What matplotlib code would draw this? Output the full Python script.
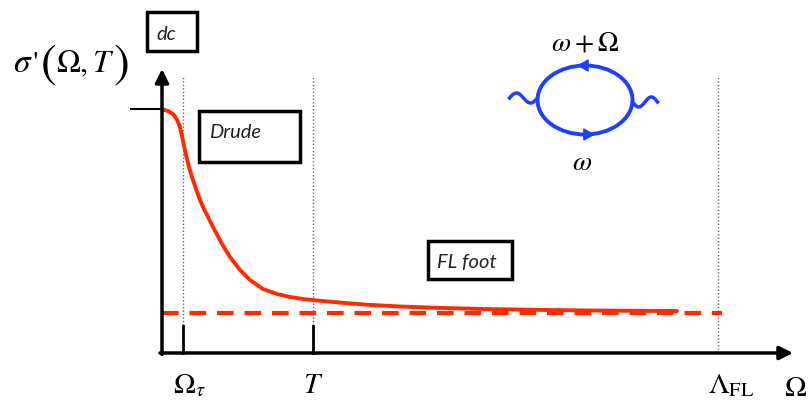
import numpy as np
import matplotlib.pyplot as plt
from matplotlib.patches import Rectangle, Ellipse

plt.rcParams['mathtext.fontset'] = 'stix'

# curve (x: frequency from origin, y: conductivity)
omega = [0, 1, 6, 11, 14, 16, 18, 20, 22, 24, 27, 30, 34, 38, 42, 46, 51, 60, 68, 78, 88,
         101, 115, 128, 141, 152, 165, 188, 205, 238, 271, 321, 371, 421, 471, 515]
sigma = [244, 243.5, 242, 239, 235, 231, 226, 217, 207, 198, 186, 176, 164, 153, 144, 136, 126, 109, 96, 83, 73,
         64, 59, 56, 54, 52.8, 51.6, 49.6, 48.3, 46.5, 45.3, 44, 43.2, 42.6, 42.2, 42]

sigma_dc = 244
sigma_fl = 40
omega_tau = 21
temp = 151
lambda_fl = 556
x_end = 631
y_top = 284

tick_labels = [r'$\Omega_\tau$', r'$T$', r'$\Lambda_{\rm FL}$']
tick_pos = [omega_tau, temp, lambda_fl]
label_shift = [6, 0, 13]

fig = plt.figure(figsize=(8.09, 4.02), dpi=100)
ax = fig.add_axes([0, 0, 1, 1])
ax.set_xlim(-162, 647)
ax.set_ylim(-48, 354)
ax.axis('off')

# axes with arrows
ax.annotate('', xy=(x_end, 0), xytext=(-2, 0),
            arrowprops=dict(arrowstyle='-|>', lw=2.5, color='k', mutation_scale=20,
                            shrinkA=0, shrinkB=0))
ax.annotate('', xy=(0, y_top), xytext=(0, -1.5),
            arrowprops=dict(arrowstyle='-|>', lw=2.5, color='k', mutation_scale=20,
                            shrinkA=0, shrinkB=0))
ax.plot([-31, 0], [sigma_dc, sigma_dc], color='k', lw=1.5)

# dotted guides and short ticks
for xp in tick_pos:
    ax.plot([xp, xp], [0, 276], color='#666666', lw=1, ls=(0, (1, 1.5)))
for xp in tick_pos[:2]:
    ax.plot([xp, xp], [0, 27], color='k', lw=2)

# tick labels
for xp, lab, dx in zip(tick_pos, tick_labels, label_shift):
    ax.text(xp + dx, -31, lab, fontsize=21, ha='center', va='center')
ax.text(622, -34, r'$\Omega$', fontsize=21, ha='left', va='center')

# FL floor and curve
ax.plot([0, lambda_fl + 4], [sigma_fl, sigma_fl], color='#ff2a00', lw=3, ls=(0, (4, 2.6)))
ax.plot(omega, sigma, color='#ff2a00', lw=2.8, solid_capstyle='round', solid_joinstyle='round')

# y label, assembled from pieces so the brackets can be tall
ax.text(-149, 282, r'$\sigma$', fontsize=24, ha='left', va='baseline')
ax.text(-129, 282, "'", fontsize=22, family='STIXGeneral', ha='left', va='baseline')
ax.text(-121, 289, '(', fontsize=34, family='STIXGeneral', ha='left', va='center')
ax.text(-106, 282, r'$\Omega,T$', fontsize=23, ha='left', va='baseline')
ax.text(-48, 289, ')', fontsize=34, family='STIXGeneral', ha='left', va='center')

# boxes
boxes = [((-15, 302), 50, 39, 'dc', (-6, 320)),
         ((37, 191), 101, 51, 'Drude', (47, 221)),
         ((266, 74), 84, 38, 'FL foot', (275, 92))]
for (x0, y0), w, h, txt, (tx, ty) in boxes:
    ax.add_patch(Rectangle((x0, y0), w, h, fill=False, ec='k', lw=2.5))
    ax.text(tx, ty, txt, fontsize=14.5, style='italic', family='Lato', ha='left', va='center',
            color='#222222')

# bubble diagram
cx, cy = 423, 253
blue = '#1f3fff'
ax.add_patch(Ellipse((cx, cy), 95, 69, fill=False, ec=blue, lw=2.8))
t = np.linspace(0, 1, 60)
ax.plot(cx - 75.5 + 28 * t, cy + 2 + 5 * np.sin(2 * np.pi * t), color=blue, lw=2.5)
ax.plot(cx + 47.5 + 25 * t, cy - 2 - 5 * np.sin(2 * np.pi * t), color=blue, lw=2.5)
ax.annotate('', xy=(cx - 8, cy + 34.5), xytext=(cx - 1, cy + 34.5),
            arrowprops=dict(arrowstyle='-|>,head_length=0.5,head_width=0.28', color=blue, lw=1,
                            mutation_scale=14, shrinkA=0, shrinkB=0))
ax.annotate('', xy=(cx + 10, cy - 34.5), xytext=(cx + 3, cy - 34.5),
            arrowprops=dict(arrowstyle='-|>,head_length=0.5,head_width=0.28', color=blue, lw=1,
                            mutation_scale=14, shrinkA=0, shrinkB=0))
ax.text(cx, cy + 58, r'$\omega+\Omega$', fontsize=20, ha='center', va='center')
ax.text(cx - 3, cy - 61, r'$\omega$', fontsize=20, ha='center', va='center')

fig.savefig('out.png', dpi=100)
